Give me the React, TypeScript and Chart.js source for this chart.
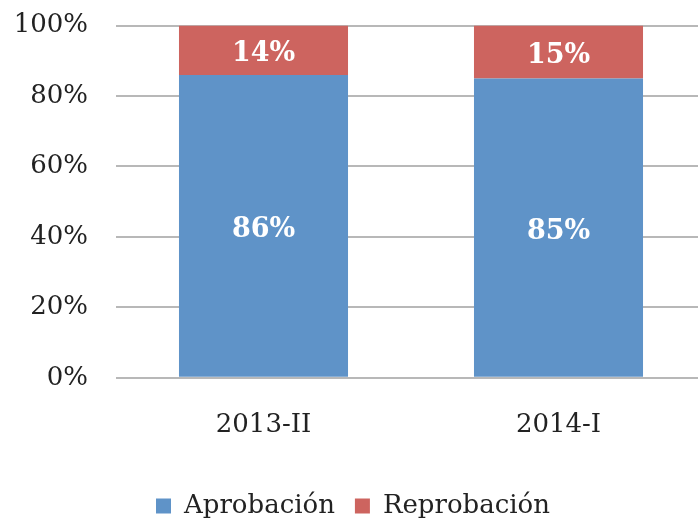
import React, { useEffect, useRef } from "react";
import { Chart, registerables } from "chart.js";

Chart.register(...registerables);

const categories = ["2013-II", "2014-I"];
const aprobacion = [86, 85];
const reprobacion = [14, 15];
const yTicks = [0, 20, 40, 60, 80, 100];

const FONT = "'DejaVu Serif', serif";

const labelPlugin = {
  id: "barLabels",
  afterDatasetsDraw(chart: any) {
    const ctx = chart.ctx;
    ctx.save();
    ctx.fillStyle = "#ffffff";
    ctx.font = `bold 27px ${FONT}`;
    ctx.textAlign = "center";
    ctx.textBaseline = "middle";
    chart.data.datasets.forEach((ds: any, di: number) => {
      const meta = chart.getDatasetMeta(di);
      meta.data.forEach((bar: any, i: number) => {
        const { x, y, base } = bar.getProps(["x", "y", "base"], true);
        ctx.fillText(`${ds.data[i]}%`, x, (y + base) / 2 + 4);
      });
    });
    ctx.restore();
  },
};

export default function App() {
  const ref = useRef<HTMLCanvasElement>(null);
  useEffect(() => {
    if (!ref.current) return;
    const chart = new Chart(ref.current, {
      type: "bar",
      data: {
        labels: categories,
        datasets: [
          { label: "Aprobación", data: aprobacion, backgroundColor: "#5f93c8" },
          { label: "Reprobación", data: reprobacion, backgroundColor: "#cd645f" },
        ],
      },
      plugins: [labelPlugin],
      options: {
        responsive: false,
        animation: false,
        layout: { padding: { top: 12, right: 0, left: 0, bottom: 4 } },
        datasets: { bar: { barPercentage: 1, categoryPercentage: 0.573 } },
        scales: {
          x: {
            stacked: true,
            grid: { display: false, drawTicks: false },
            border: { display: false },
            ticks: { color: "#222", font: { family: FONT, size: 26 }, padding: 32 },
          },
          y: {
            stacked: true,
            min: 0,
            max: 100,
            afterBuildTicks: (axis: any) => {
              axis.ticks = yTicks.map((v) => ({ value: v }));
            },
            afterFit: (axis: any) => {
              axis.width = 116;
            },
            grid: { color: "#b8b8b8", lineWidth: 2, drawTicks: false },
            border: { display: false },
            ticks: {
              color: "#222",
              font: { family: FONT, size: 26 },
              padding: 28,
              callback: (v: any) => `${v}%`,
            },
          },
        },
        plugins: {
          legend: {
            position: "bottom",
            labels: {
              color: "#222",
              font: { family: FONT, size: 26 },
              boxWidth: 15,
              boxHeight: 15,
              padding: 20,
            },
          },
          tooltip: { enabled: false },
        },
      },
    });
    return () => chart.destroy();
  }, []);
  return (
    <div style={{ position: "fixed", left: 0, top: 0, width: 698, height: 523, overflow: "hidden", background: "#fff" }}>
      <canvas
        ref={ref}
        width={706}
        height={551}
        style={{ position: "absolute", left: 0, top: -18, width: 706, height: 551 }}
      />
    </div>
  );
}
